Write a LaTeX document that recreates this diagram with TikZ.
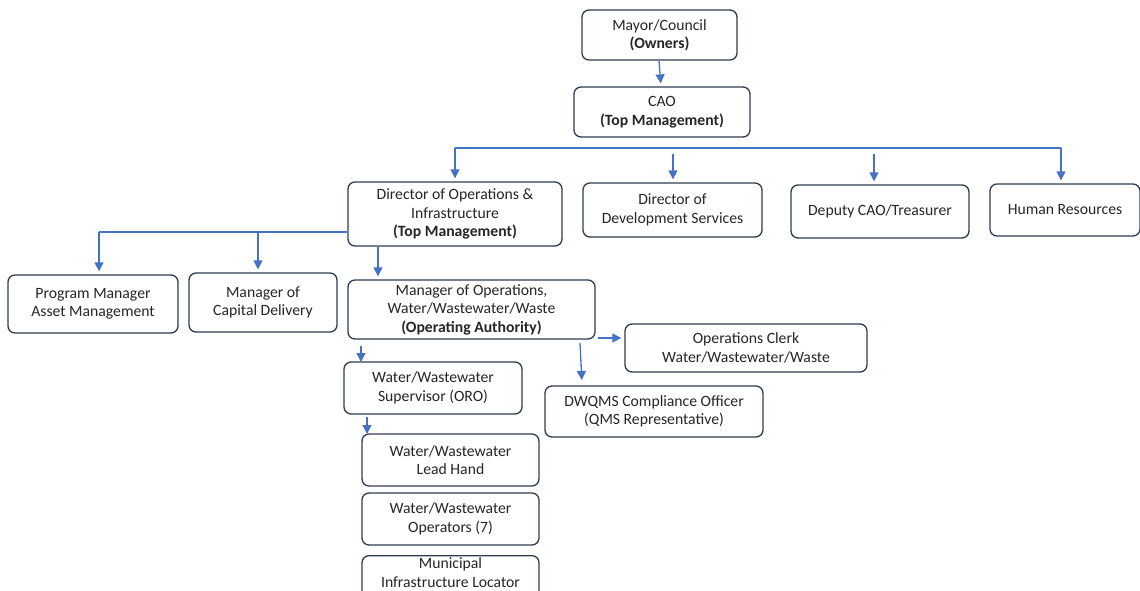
\documentclass[tikz,border=0pt]{standalone}
\usepackage{fontspec}
\setmainfont{Carlito}
\usetikzlibrary{arrows.meta}
\definecolor{boxc}{HTML}{2F3D52}
\definecolor{linec}{HTML}{4472C4}
\definecolor{txtc}{HTML}{262626}
\tikzset{
  box/.style={draw=boxc, line width=1.3pt, rounded corners=7pt, fill=white,
    align=center, inner sep=2pt, font=\fontsize{15.7}{18.5}\selectfont, text=txtc},
  conn/.style={draw=linec, line width=1.3pt},
  arr/.style={conn, -{Triangle[width=9pt,length=9pt]}, shorten >=3pt},
}
\begin{document}
\begin{tikzpicture}[x=1pt,y=-1pt]
\useasboundingbox (0,0) rectangle (1140,591);
\begin{scope}
\clip (0,0) rectangle (1140,591);
\node[box, minimum width=155pt, minimum height=50pt] (mayor) at (659.5,35) {Mayor/Council\\\textbf{(Owners)}};
\node[box, minimum width=176pt, minimum height=50pt] (cao) at (662,112) {CAO\\\textbf{(Top Management)}};
\node[box, minimum width=214pt, minimum height=64pt] (dirops) at (455,214) {Director of Operations \&\\Infrastructure\\\textbf{(Top Management)}};
\node[box, minimum width=179pt, minimum height=54pt] (dirdev) at (672.5,210) {Director of\\Development Services};
\node[box, minimum width=178pt, minimum height=53pt] (deputy) at (880,211.5) {Deputy CAO/Treasurer};
\node[box, minimum width=150pt, minimum height=52pt] (hr) at (1065,210) {Human Resources};
\node[box, minimum width=170pt, minimum height=58pt] (pm) at (93,304) {Program Manager\\Asset Management};
\node[box, minimum width=148pt, minimum height=59pt] (mcd) at (263,302.5) {Manager of\\Capital Delivery};
\node[box, minimum width=247pt, minimum height=59pt] (mops) at (471.5,309.5) {Manager of Operations,\\Water/Wastewater/Waste\\\textbf{(Operating Authority)}};
\node[box, minimum width=242pt, minimum height=48pt] (clerk) at (746,348) {Operations Clerk\\Water/Wastewater/Waste};
\node[box, minimum width=218pt, minimum height=51pt] (dwqms) at (654,411.5) {DWQMS Compliance Officer\\(QMS Representative)};
\node[box, minimum width=178pt, minimum height=52pt] (sup) at (433,388) {Water/Wastewater\\Supervisor (ORO)};
\node[box, minimum width=177pt, minimum height=52pt] (lead) at (450.5,460) {Water/Wastewater\\Lead Hand};
\node[box, minimum width=177pt, minimum height=52pt] (oper) at (450.5,519) {Water/Wastewater\\Operators (7)};
\node[box, minimum width=177pt, minimum height=52pt, anchor=north, text depth=18pt] (muni) at (450.5,555) {Municipal\\Infrastructure Locator};

% connectors
\draw[arr] (659,61) -- (cao.north -| 661,0);
\coordinate (b1) at (455,148);
\coordinate (b2) at (1061,148);
\draw[conn] (b1) -- (b2);
\draw[arr] (b1) -- (dirops.north);
\draw[arr] (b2) -- (b2 |- hr.north);
\coordinate (c1) at (673,154);
\draw[arr] (c1) -- (c1 |- dirdev.north);
\coordinate (c2) at (874,154);
\draw[arr] (c2) -- (c2 |- deputy.north);

\coordinate (d1) at (99,232);
\coordinate (d2) at (258,232);
\draw[conn] (d1) -- (d1 -| dirops.west);
\draw[arr] (d1) -- (d1 |- pm.north);
\draw[arr] (d2) -- (d2 |- mcd.north);
\coordinate (d3) at (378,0);
\draw[arr] (d3 |- dirops.south) -- (d3 |- mops.north);

\coordinate (e1) at (0,338);
\draw[arr] (e1 -| mops.east) ++(2,0) -- (e1 -| clerk.west);
\draw[arr] (580,343) -- (582,383);
\draw[arr] (361,346) -- (361,365);
\draw[arr] (367,417) -- (367,437);
\end{scope}
\end{tikzpicture}
\end{document}
